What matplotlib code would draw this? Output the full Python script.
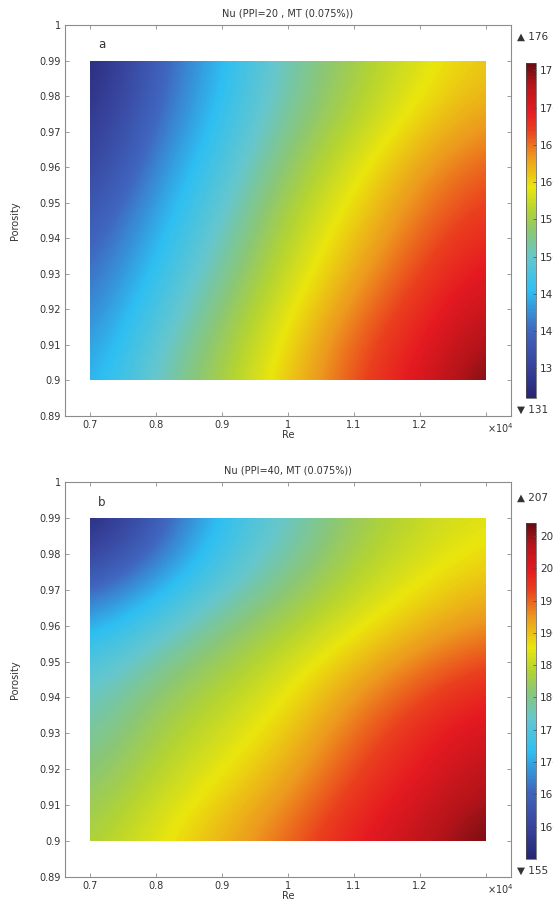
import numpy as np
import matplotlib
matplotlib.use('Agg')
import matplotlib.pyplot as plt
from matplotlib.colors import LinearSegmentedColormap, Normalize
from matplotlib.patches import Rectangle

# grid (evenly spaced nodes)
re_vals = [7000, 8000, 9000, 10000, 11000, 12000, 13000]
porosity = [0.90, 0.915, 0.93, 0.945, 0.96, 0.975, 0.99]

# Nu, panel a (PPI=20), one row per porosity value
nu_a = [
    [144.0, 150.5, 155.5, 161.0, 166.5, 170.5, 176.0],
    [142.0, 148.5, 154.0, 159.5, 165.0, 169.0, 173.0],
    [140.0, 146.0, 152.0, 157.5, 162.5, 167.0, 170.5],
    [138.0, 144.0, 150.0, 156.0, 160.5, 165.0, 168.0],
    [135.0, 142.0, 148.0, 154.0, 158.5, 163.0, 166.0],
    [133.0, 140.0, 146.0, 152.0, 156.0, 160.0, 163.0],
    [131.0, 139.0, 145.0, 151.0, 155.0, 158.5, 161.0],
]

# Nu, panel b (PPI=40)
nu_b = [
    [183.5, 187.5, 191.0, 195.0, 199.5, 203.0, 207.0],
    [181.0, 185.0, 188.5, 192.0, 197.0, 200.5, 204.0],
    [178.5, 183.0, 186.0, 189.5, 194.5, 198.5, 201.5],
    [176.0, 180.5, 183.5, 187.0, 191.5, 195.0, 198.0],
    [170.0, 175.5, 180.0, 183.5, 187.0, 190.5, 193.0],
    [162.0, 168.0, 175.0, 179.5, 184.0, 187.0, 189.5],
    [155.0, 163.0, 172.0, 177.0, 182.0, 185.0, 187.0],
]

range_a = (131, 176)
range_b = (155, 207)
cticks_a = [135, 140, 145, 150, 155, 160, 165, 170, 175]
cticks_b = [160, 165, 170, 175, 180, 185, 190, 195, 200, 205]

titles = ['Nu (PPI=20 , MT (0.075%))', 'Nu (PPI=40, MT (0.075%))']
letters = ['a', 'b']

xticks = [7000, 8000, 9000, 10000, 11000, 12000, 13000]
xticklabels = ['0.7', '0.8', '0.9', '1', '1.1', '1.2', '']
yticks = [0.89, 0.90, 0.91, 0.92, 0.93, 0.94, 0.95, 0.96, 0.97, 0.98, 0.99, 1.0]
yticklabels = ['0.89', '0.9', '0.91', '0.92', '0.93', '0.94', '0.95', '0.96',
               '0.97', '0.98', '0.99', '1']

# COMSOL-like rainbow
cmap = LinearSegmentedColormap.from_list('comsol_rainbow', [
    (0.00, (0.15, 0.15, 0.45)),
    (0.10, (0.22, 0.27, 0.62)),
    (0.20, (0.25, 0.40, 0.75)),
    (0.32, (0.18, 0.75, 0.95)),
    (0.42, (0.40, 0.78, 0.80)),
    (0.50, (0.55, 0.78, 0.45)),
    (0.56, (0.70, 0.83, 0.20)),
    (0.63, (0.92, 0.90, 0.05)),
    (0.72, (0.93, 0.60, 0.12)),
    (0.80, (0.92, 0.25, 0.12)),
    (0.86, (0.90, 0.10, 0.13)),
    (0.94, (0.70, 0.08, 0.10)),
    (1.00, (0.40, 0.05, 0.07)),
])

W, H = 553, 906
fig = plt.figure(figsize=(W / 100, H / 100), dpi=100)
plt.rcParams['font.family'] = ['DejaVu Sans']

spine_col = '0.55'
text_col = '0.2'
fs = 7


def fx(px):
    return px / W


def fy(py):
    return 1 - py / H


panels = [
    (nu_a, range_a, cticks_a, 25, 416, 63, 398, 37, 410),
    (nu_b, range_b, cticks_b, 482, 877, 523, 859, 498, 871),
]

dx = (re_vals[1] - re_vals[0]) / 2
dy = (porosity[1] - porosity[0]) / 2

for i, (nu, rng, cticks, top, bot, ctop, cbot, up_y, dn_y) in enumerate(panels):
    ax = fig.add_axes([fx(65), fy(bot), fx(511 - 65), (bot - top) / H])
    norm = Normalize(vmin=rng[0], vmax=rng[1])
    im = ax.imshow(np.array(nu), cmap=cmap, norm=norm, origin='lower',
                   aspect='auto', interpolation='bicubic',
                   extent=[re_vals[0] - dx, re_vals[-1] + dx,
                           porosity[0] - dy, porosity[-1] + dy])
    im.set_clip_path(Rectangle((re_vals[0], porosity[0]),
                               re_vals[-1] - re_vals[0],
                               porosity[-1] - porosity[0],
                               transform=ax.transData))
    ax.set_xlim(6620, 13380)
    ax.set_ylim(0.89, 1.0)
    ax.set_xticks(xticks)
    ax.set_xticklabels(xticklabels)
    ax.set_yticks(yticks)
    ax.set_yticklabels(yticklabels)
    ax.tick_params(direction='in', length=3, width=0.6, colors=spine_col,
                   labelcolor=text_col, labelsize=fs, top=True, right=True, pad=3)
    for s in ax.spines.values():
        s.set_color(spine_col)
        s.set_linewidth(0.8)
    ax.set_title(titles[i], fontsize=fs, color=text_col, pad=6)
    ax.set_xlabel('Re', fontsize=fs, color=text_col, labelpad=0)
    ax.set_ylabel('Porosity', fontsize=fs, color=text_col, labelpad=14)
    ax.text(0.074, 0.949, letters[i], transform=ax.transAxes, fontsize=8.5,
            color=text_col, ha='left', va='center')
    ax.text(0.975, -0.031, r'$\times$10$^4$', transform=ax.transAxes,
            fontsize=fs, color=text_col, ha='center', va='center')

    cax = fig.add_axes([fx(526), fy(cbot), fx(10), (cbot - ctop) / H])
    cb = fig.colorbar(im, cax=cax, ticks=cticks)
    cb.outline.set_linewidth(0.5)
    cb.outline.set_edgecolor('0.3')
    cax.tick_params(direction='in', length=2, width=0.5, colors='0.3',
                    labelcolor=text_col, labelsize=7.5, pad=3)

    fig.text(fx(517), fy(up_y), '\u25b2 %d' % rng[1], fontsize=7.5,
             color=text_col, ha='left', va='center')
    fig.text(fx(517), fy(dn_y), '\u25bc %d' % rng[0], fontsize=7.5,
             color=text_col, ha='left', va='center')

fig.savefig('out.png', dpi=100)
